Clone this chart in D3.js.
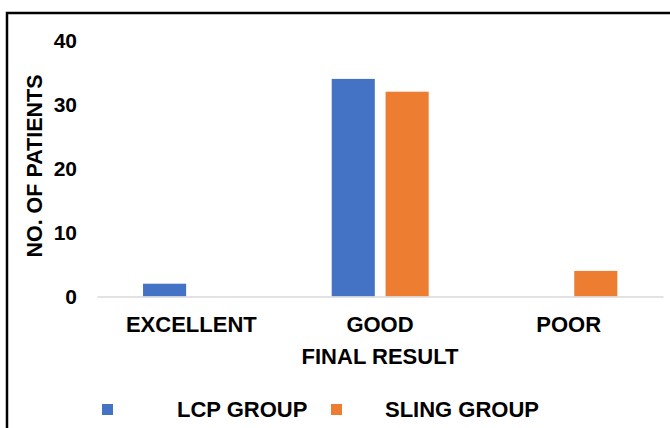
<!DOCTYPE html>
<html>
<head>
<meta charset="utf-8">
<script src="https://cdn.jsdelivr.net/npm/d3@7"></script>
<style>
  html, body { margin: 0; padding: 0; background: #fff; }
  svg { display: block; font-family: "Liberation Sans", Arial, sans-serif; font-weight: bold; }
</style>
</head>
<body>
<svg id="chart"></svg>
<script>
let width = 670,
  height = 428;

// Data
const categories = ["EXCELLENT", "GOOD", "POOR"];
const groups = ["LCP GROUP", "SLING GROUP"];
const lcpValues = [2, 34, 0];
const slingValues = [0, 32, 4];
const yTicks = [0, 10, 20, 30, 40];
const colors = ["#4472C4", "#ED7D31"];

let svg = d3.select("#chart").attr("width", width).attr("height", height);

// Frame border
svg
  .append("rect")
  .attr("x", 7)
  .attr("y", 13)
  .attr("width", width + 20)
  .attr("height", height + 20)
  .attr("fill", "none")
  .attr("stroke", "#000")
  .attr("stroke-width", 2.5);

// Scales
var x0 = d3.scaleBand().domain(categories).range([97, 663]).padding(0);
var x1 = d3
  .scaleBand()
  .domain(groups)
  .range([x0.bandwidth() * 0.244, x0.bandwidth() * 0.758])
  .paddingInner(0.2);
var y = d3.scaleLinear().domain([0, 40]).range([296.5, 40.5]);
var color = d3.scaleOrdinal(groups, colors);

// Table rows from the arrays
var rows = categories.map((c, i) => ({
  category: c,
  values: [
    { group: groups[0], value: lcpValues[i] },
    { group: groups[1], value: slingValues[i] },
  ],
}));

// Bars
svg
  .append("g")
  .selectAll("g")
  .data(rows)
  .enter()
  .append("g")
  .attr("transform", (d) => "translate(" + x0(d.category) + ",0)")
  .selectAll("rect")
  .data((d) => d.values.filter((v) => v.value > 0))
  .enter()
  .append("rect")
  .attr("x", (d) => x1(d.group))
  .attr("y", (d) => y(d.value))
  .attr("width", x1.bandwidth())
  .attr("height", (d) => y(0) - y(d.value))
  .attr("fill", (d) => color(d.group));

// Y axis
var yAxis = svg
  .append("g")
  .attr("transform", "translate(97,0)")
  .call(d3.axisLeft(y).tickValues(yTicks).tickSize(0).tickPadding(20));
yAxis.select(".domain").remove();
yAxis
  .selectAll("text")
  .style("font-size", "21px")
  .style("font-family", "Liberation Sans, Arial, sans-serif")
  .style("font-weight", "bold")
  .attr("fill", "#000");

// X axis
var xAxis = svg
  .append("g")
  .attr("transform", "translate(0," + y(0) + ")")
  .call(d3.axisBottom(x0).tickSize(0).tickPadding(20));
xAxis.select(".domain").attr("stroke", "#d9d9d9").attr("stroke-width", 1.5);
xAxis
  .selectAll("text")
  .style("font-size", "22px")
  .style("font-family", "Liberation Sans, Arial, sans-serif")
  .style("font-weight", "bold")
  .attr("fill", "#000");

// Axis titles
svg
  .append("text")
  .attr("x", 380)
  .attr("y", 364)
  .attr("text-anchor", "middle")
  .style("font-size", "22px")
  .text("FINAL RESULT");

svg
  .append("text")
  .attr("transform", "translate(42,166) rotate(-90)")
  .attr("text-anchor", "middle")
  .style("font-size", "21.5px")
  .text("NO. OF PATIENTS");

// Legend
var legendX = [102, 331];
var legendTextX = [177, 385];
var legend = svg
  .append("g")
  .selectAll("g")
  .data(groups)
  .enter()
  .append("g");

legend
  .append("rect")
  .attr("x", (d, i) => legendX[i])
  .attr("y", 404)
  .attr("width", 11)
  .attr("height", 11)
  .attr("fill", (d) => color(d));

legend
  .append("text")
  .attr("x", (d, i) => legendTextX[i])
  .attr("y", 417)
  .style("font-size", "22px")
  .text((d) => d);
</script>
</body>
</html>
